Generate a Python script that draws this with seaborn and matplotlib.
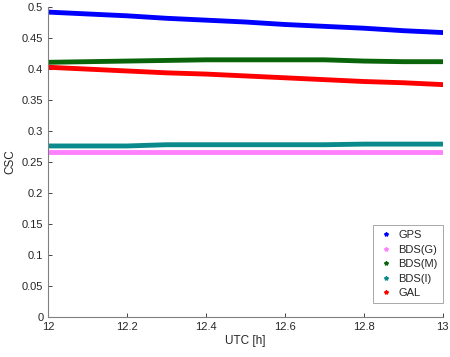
import matplotlib
matplotlib.use("Agg")
import matplotlib.pyplot as plt
import seaborn as sns
import numpy as np
import pandas as pd
from matplotlib.lines import Line2D
from matplotlib.ticker import FuncFormatter

# time axis (UTC hours) and CSC values
utc = [12.0, 12.1, 12.2, 12.3, 12.4, 12.5, 12.6, 12.7, 12.8, 12.9, 13.0]
gps = [0.492, 0.489, 0.486, 0.482, 0.479, 0.476, 0.472, 0.469, 0.466, 0.462, 0.459]
bds_g = [0.267, 0.267, 0.267, 0.267, 0.267, 0.267, 0.267, 0.267, 0.267, 0.267, 0.267]
bds_m = [0.411, 0.412, 0.413, 0.414, 0.415, 0.415, 0.415, 0.415, 0.413, 0.412, 0.412]
bds_i = [0.276, 0.276, 0.276, 0.278, 0.278, 0.278, 0.278, 0.278, 0.279, 0.279, 0.279]
gal = [0.403, 0.400, 0.397, 0.394, 0.392, 0.389, 0.386, 0.383, 0.380, 0.378, 0.375]

names = ["GPS", "BDS(G)", "BDS(M)", "BDS(I)", "GAL"]
colors = ["#0000ff", "#ff80ff", "#0a640a", "#0a8a8a", "#ff0000"]

df = pd.DataFrame({"UTC": utc * 5,
                   "CSC": gps + bds_g + bds_m + bds_i + gal,
                   "sys": sum([[n] * len(utc) for n in names], [])})

sns.set_style("white")
plt.rcParams["font.family"] = ["Liberation Sans", "DejaVu Sans"]

fig = plt.figure(figsize=(4.5, 3.57), dpi=100)
ax = fig.add_axes([0.107, 0.112, 0.877, 0.868])

sns.lineplot(data=df, x="UTC", y="CSC", hue="sys", hue_order=names,
             palette=colors, lw=3.5, solid_capstyle="round", legend=False, ax=ax)

ax.set_xlim(12, 13)
ax.set_ylim(0, 0.5)
ax.set_xticks(np.arange(12, 13.01, 0.2))
ax.set_yticks(np.arange(0, 0.501, 0.05))
fmt = FuncFormatter(lambda v, p: f"{round(v, 2):g}")
ax.xaxis.set_major_formatter(fmt)
ax.yaxis.set_major_formatter(fmt)
ax.tick_params(direction="in", length=3, labelsize=8, colors="#262626", width=0.6,
               bottom=True, left=True)
for side in ["top", "right"]:
    ax.spines[side].set_visible(False)
for side in ["left", "bottom"]:
    ax.spines[side].set_color("#808080")
    ax.spines[side].set_linewidth(0.8)
ax.set_xlabel("UTC [h]", fontsize=8.5, color="#262626", labelpad=2)
ax.set_ylabel("CSC", fontsize=8.5, color="#262626", labelpad=4)

handles = [Line2D([], [], ls="none", marker="*", ms=3, color=c) for c in colors]
leg = ax.legend(handles, names, loc="lower right", bbox_to_anchor=(1.0, 0.045),
                borderaxespad=0, fontsize=8, frameon=True, fancybox=False,
                handlelength=1.3, handletextpad=0.5, borderpad=0.45, labelspacing=0.4)
leg.get_frame().set_edgecolor("#808080")
leg.get_frame().set_linewidth(0.6)

fig.savefig("out.png", dpi=100)
